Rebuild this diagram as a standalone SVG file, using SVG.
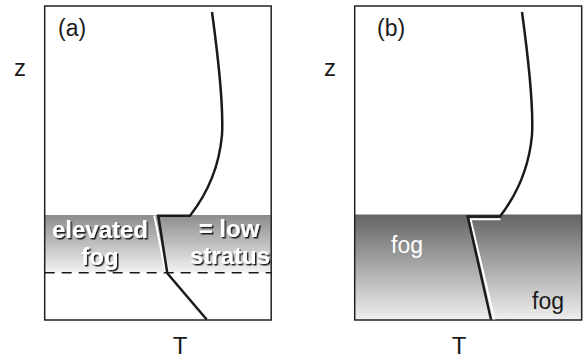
<svg xmlns="http://www.w3.org/2000/svg" width="586" height="360" viewBox="0 0 586 360">
<defs>
<linearGradient id="gA" x1="0" y1="0" x2="0" y2="1">
<stop offset="0" stop-color="#8c8c8c"/>
<stop offset="1" stop-color="#f3f3f3"/>
</linearGradient>
<linearGradient id="gB" x1="0" y1="0" x2="0" y2="1">
<stop offset="0" stop-color="#646464"/>
<stop offset="1" stop-color="#efefef"/>
</linearGradient>
<filter id="sh" x="-10%" y="-20%" width="130%" height="150%">
<feDropShadow dx="1.5" dy="1.5" stdDeviation="0.6" flood-color="#1a1a1a" flood-opacity="1"/>
</filter>
</defs>
<style>
text{font-family:"Liberation Sans",Arial,sans-serif;}
.ax{font-size:24px;fill:#1a1a1a;}
.lb{font-size:23px;fill:#1a1a1a;}
.bold{font-size:24px;font-weight:bold;fill:#fff;filter:url(#sh);text-anchor:middle;}
.fog{font-size:23px;}
.frame{fill:none;stroke:#222;stroke-width:1.5;}
.prof{fill:none;stroke:#1a1a1a;stroke-width:2.5;stroke-linejoin:miter;}
.wl{fill:none;stroke:#fff;stroke-width:2;}
</style>
<rect width="586" height="360" fill="#fff"/>
<g id="panelA">
<rect x="44.7" y="215" width="226.5" height="57.7" fill="url(#gA)"/>
<rect class="frame" x="44.7" y="6" width="226.5" height="314"/>
<line x1="44.7" y1="272.7" x2="271.2" y2="272.7" stroke="#1a1a1a" stroke-width="1.5" stroke-dasharray="10,7"/>
<text class="lb" x="58" y="36">(a)</text>
<text class="bold" x="100" y="238">elevated</text>
<text class="bold" x="100" y="265">fog</text>
<text class="bold" x="229" y="237">= low</text>
<text class="bold" x="230" y="264">stratus</text>
</g>
<g id="panelB">
<rect x="354.7" y="214.5" width="227" height="105.5" fill="url(#gB)"/>
<rect class="frame" x="354.7" y="6" width="227" height="314"/>
<text class="lb" x="377" y="36">(b)</text>
<text class="fog" x="391" y="253" fill="#fff">fog</text>
<text class="fog" x="532" y="309" fill="#1a1a1a">fog</text>
</g>
<g id="labels">
<text class="ax" x="14" y="76">z</text>
<text class="ax" x="324" y="76">z</text>
<text class="ax" x="180" y="354" text-anchor="middle">T</text>
<text class="ax" x="459" y="354" text-anchor="middle">T</text>
</g>
<g id="connectors">
<line class="wl" x1="154.3" y1="215.5" x2="165.5" y2="272"/>
<path class="prof" d="M212,12 Q224,100 222,135 Q218,180 190,215.7 L158.3,215.7 L167.3,273.3 L206.7,319.5"/>
<path class="wl" d="M500.5,219.3 L470.5,219.3 L494.5,319.5"/>
<path class="prof" d="M522,12 Q534,100 532,135 Q528,180 500,216.5 L467.7,216.5 L491,319.5"/>
</g>
</svg>
